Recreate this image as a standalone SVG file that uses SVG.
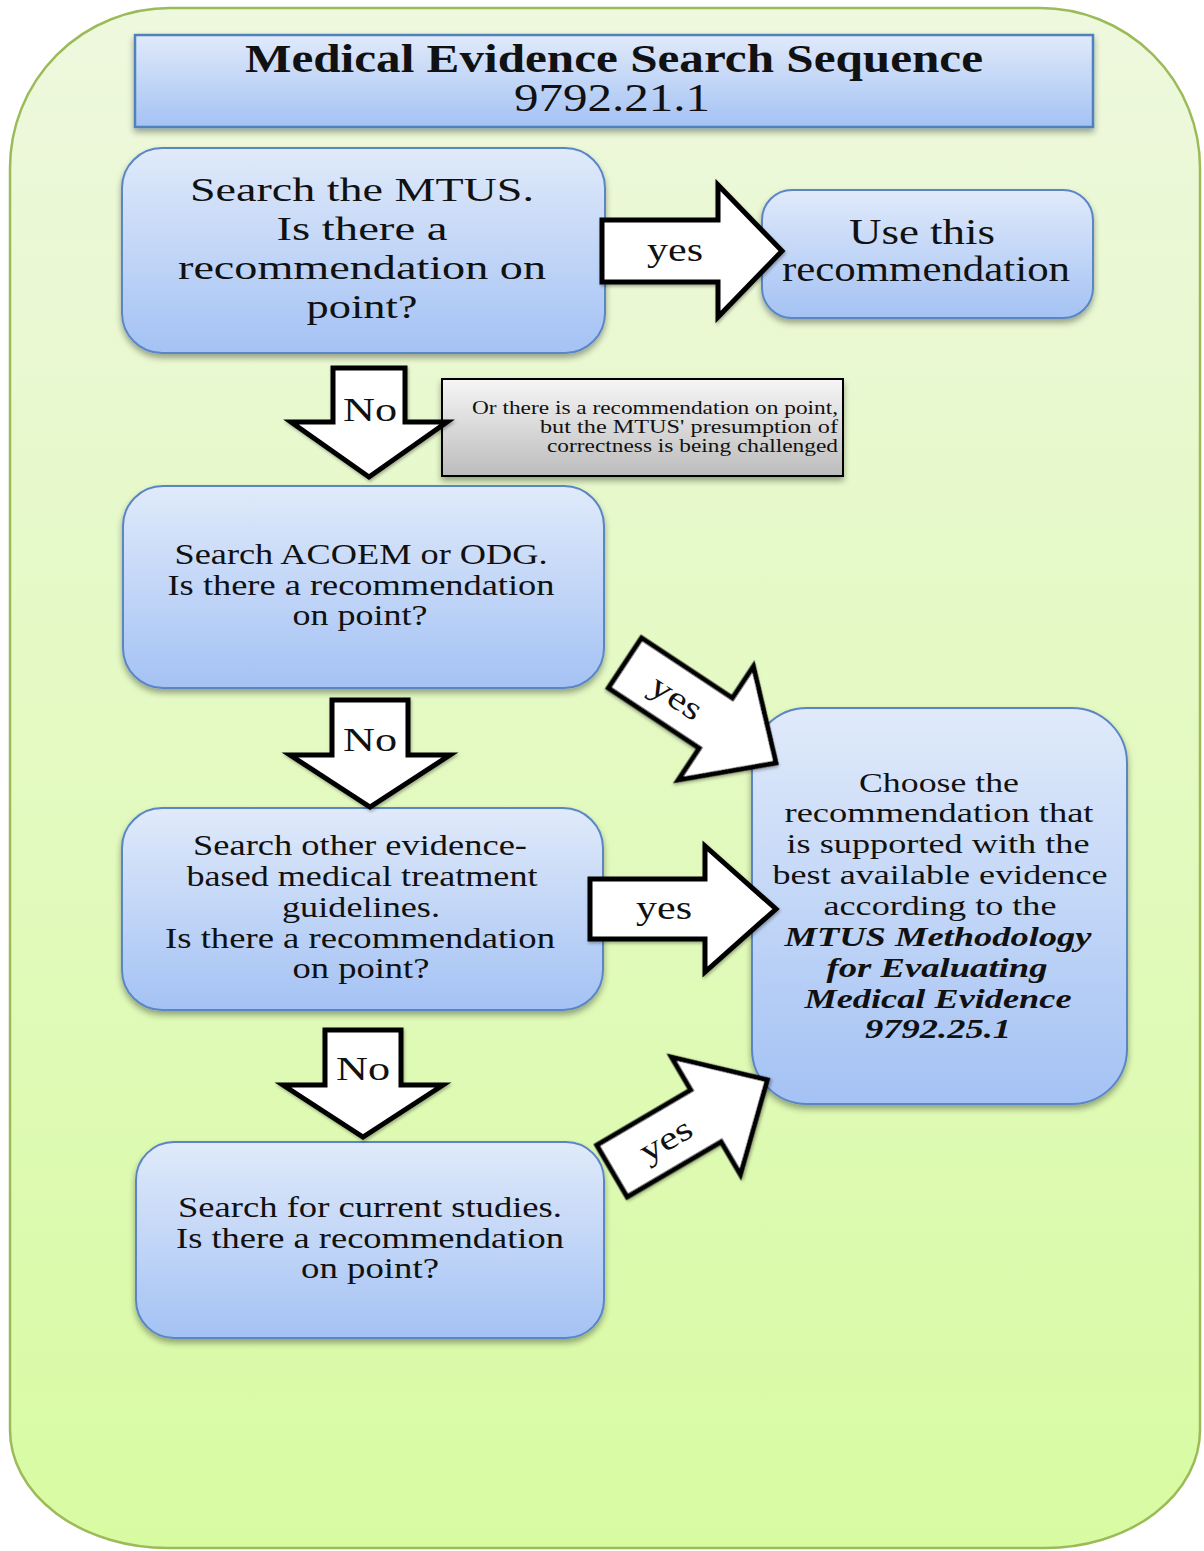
<svg xmlns="http://www.w3.org/2000/svg" width="1204" height="1551" viewBox="0 0 1204 1551">
  <defs>
    <linearGradient id="gOuter" x1="0" y1="0" x2="0" y2="1">
      <stop offset="0" stop-color="#eef8de"/>
      <stop offset="1" stop-color="#d8fba2"/>
    </linearGradient>
    <linearGradient id="gBlue" x1="0" y1="0" x2="0" y2="1">
      <stop offset="0" stop-color="#e0eafa"/>
      <stop offset="1" stop-color="#a4c2f4"/>
    </linearGradient>
    <linearGradient id="gGray" x1="0" y1="0" x2="0" y2="1">
      <stop offset="0" stop-color="#f6f6f6"/>
      <stop offset="1" stop-color="#bcbcbc"/>
    </linearGradient>
    <filter id="shadow" x="-10%" y="-10%" width="120%" height="130%">
      <feDropShadow dx="0" dy="4" stdDeviation="3" flood-color="#000" flood-opacity="0.35"/>
    </filter>
    <filter id="shadowS" x="-10%" y="-10%" width="120%" height="130%">
      <feDropShadow dx="1" dy="2" stdDeviation="1.5" flood-color="#000" flood-opacity="0.3"/>
    </filter>
  </defs>
  <style>
    .box { fill: url(#gBlue); stroke: #5a86c5; stroke-width: 2; filter: url(#shadow); }
    .txt { font-family: "Liberation Serif", "Times New Roman", serif; fill: #111; text-anchor: middle; }
    .arrow { fill: #fff; stroke: #000; stroke-width: 5; stroke-linejoin: miter; filter: url(#shadowS); }
    .lbl { font-family: "Liberation Serif", "Times New Roman", serif; fill: #111; text-anchor: middle; font-size: 33px; }
  </style>

  <!-- background container -->
  <path id="outer" d="M 170,8 H 1040 A 160 160 0 0 1 1200,168 V 1430 A 155 118 0 0 1 1045,1548 H 168 A 158 118 0 0 1 10,1430 V 168 A 160 160 0 0 1 170,8 Z" fill="url(#gOuter)" stroke="#9bbb59" stroke-width="2.5"/>

  <!-- title -->
  <g id="title">
    <rect x="135" y="35" width="958" height="92" fill="url(#gBlue)" stroke="#4f81bd" stroke-width="2.5" filter="url(#shadow)"/>
    <text class="txt" x="614" y="72" font-size="39" font-weight="bold" textLength="738" lengthAdjust="spacingAndGlyphs">Medical Evidence Search Sequence</text>
    <text class="txt" x="612" y="111" font-size="39" textLength="196" lengthAdjust="spacingAndGlyphs">9792.21.1</text>
  </g>

  <g id="node-mtus">
    <rect class="box" x="122" y="148" width="483" height="205" rx="40"/>
    <text class="txt" font-size="34" x="362" y="201" textLength="344" lengthAdjust="spacingAndGlyphs">Search the MTUS.</text>
    <text class="txt" font-size="34" x="362" y="240" textLength="171" lengthAdjust="spacingAndGlyphs">Is there a</text>
    <text class="txt" font-size="34" x="362" y="279" textLength="368" lengthAdjust="spacingAndGlyphs">recommendation on</text>
    <text class="txt" font-size="34" x="362" y="318" textLength="111" lengthAdjust="spacingAndGlyphs">point?</text>
  </g>

  <g id="node-use">
    <rect class="box" x="762" y="190" width="331" height="128" rx="30"/>
    <text class="txt" font-size="35" x="922" y="244" textLength="146" lengthAdjust="spacingAndGlyphs">Use this</text>
    <text class="txt" font-size="35" x="926" y="281" textLength="288" lengthAdjust="spacingAndGlyphs">recommendation</text>
  </g>

  <g id="node-note">
    <rect x="442" y="379" width="401" height="97" fill="url(#gGray)" stroke="#000" stroke-width="2" filter="url(#shadow)"/>
    <text class="txt" font-size="18" x="838" y="414" style="text-anchor:end" textLength="366" lengthAdjust="spacingAndGlyphs">Or there is  a recommendation on point,</text>
    <text class="txt" font-size="18" x="838" y="433" style="text-anchor:end" textLength="298" lengthAdjust="spacingAndGlyphs">but the  MTUS' presumption of</text>
    <text class="txt" font-size="18" x="838" y="452" style="text-anchor:end" textLength="291" lengthAdjust="spacingAndGlyphs">correctness is being  challenged</text>
  </g>

  <g id="node-acoem">
    <rect class="box" x="123" y="486" width="481" height="202" rx="40"/>
    <text class="txt" font-size="29" x="361" y="564" textLength="373" lengthAdjust="spacingAndGlyphs">Search ACOEM  or ODG.</text>
    <text class="txt" font-size="29" x="361" y="595" textLength="387" lengthAdjust="spacingAndGlyphs">Is there a recommendation</text>
    <text class="txt" font-size="29" x="360" y="625" textLength="135" lengthAdjust="spacingAndGlyphs">on point?</text>
  </g>

  <g id="node-other">
    <rect class="box" x="122" y="808" width="481" height="202" rx="40"/>
    <text class="txt" font-size="29" x="360" y="855" textLength="334" lengthAdjust="spacingAndGlyphs">Search other evidence-</text>
    <text class="txt" font-size="29" x="362" y="886" textLength="351" lengthAdjust="spacingAndGlyphs">based medical treatment</text>
    <text class="txt" font-size="29" x="361" y="917" textLength="158" lengthAdjust="spacingAndGlyphs">guidelines.</text>
    <text class="txt" font-size="29" x="360" y="948" textLength="390" lengthAdjust="spacingAndGlyphs">Is there a recommendation</text>
    <text class="txt" font-size="29" x="361" y="978" textLength="137" lengthAdjust="spacingAndGlyphs">on point?</text>
  </g>

  <g id="node-studies">
    <rect class="box" x="136" y="1142" width="468" height="196" rx="38"/>
    <text class="txt" font-size="29" x="370" y="1217" textLength="384" lengthAdjust="spacingAndGlyphs">Search for current studies.</text>
    <text class="txt" font-size="29" x="370" y="1248" textLength="388" lengthAdjust="spacingAndGlyphs">Is there a recommendation</text>
    <text class="txt" font-size="29" x="370" y="1278" textLength="138" lengthAdjust="spacingAndGlyphs">on point?</text>
  </g>

  <g id="node-choose">
    <rect class="box" x="752" y="708" width="375" height="396" rx="55"/>
    <text class="txt" font-size="28" x="939" y="792" textLength="160" lengthAdjust="spacingAndGlyphs">Choose the</text>
    <text class="txt" font-size="28" x="939" y="822" textLength="309" lengthAdjust="spacingAndGlyphs">recommendation that</text>
    <text class="txt" font-size="28" x="938" y="853" textLength="303" lengthAdjust="spacingAndGlyphs">is supported with the</text>
    <text class="txt" font-size="28" x="940" y="884" textLength="335" lengthAdjust="spacingAndGlyphs">best available evidence</text>
    <text class="txt" font-size="28" x="940" y="915" textLength="233" lengthAdjust="spacingAndGlyphs">according to the</text>
    <text class="txt" font-size="28" x="938" y="946" font-weight="bold" font-style="italic" textLength="307" lengthAdjust="spacingAndGlyphs">MTUS Methodology</text>
    <text class="txt" font-size="28" x="937" y="977" font-weight="bold" font-style="italic" textLength="221" lengthAdjust="spacingAndGlyphs">for Evaluating</text>
    <text class="txt" font-size="28" x="938" y="1008" font-weight="bold" font-style="italic" textLength="267" lengthAdjust="spacingAndGlyphs">Medical Evidence</text>
    <text class="txt" font-size="28" x="938" y="1038" font-weight="bold" font-style="italic" textLength="146" lengthAdjust="spacingAndGlyphs">9792.25.1</text>
  </g>

  <g id="connectors">
    <!-- yes: MTUS -> Use this -->
    <g transform="translate(602,251)">
      <polygon class="arrow" points="0,-31 116,-31 116,-66 180,0 116,66 116,31 0,31"/>
      <text class="lbl" x="73" y="10" textLength="56" lengthAdjust="spacingAndGlyphs">yes</text>
    </g>
    <!-- No: MTUS -> ACOEM -->
    <g transform="translate(369,368)">
      <polygon class="arrow" points="-36,0 36,0 36,54 78,54 0,109 -78,54 -36,54"/>
      <text class="lbl" font-size="35" x="1" y="53" textLength="54" lengthAdjust="spacingAndGlyphs">No</text>
    </g>
    <!-- yes: ACOEM -> Choose -->
    <g transform="translate(625,663) rotate(33.5)">
      <polygon class="arrow" points="0,-30 109,-30 109,-68 181,0 109,68 109,30 0,30"/>
      <text class="lbl" x="62" y="11" textLength="56" lengthAdjust="spacingAndGlyphs">yes</text>
    </g>
    <!-- No: ACOEM -> other -->
    <g transform="translate(370,700)">
      <polygon class="arrow" points="-38,0 38,0 38,55 80,55 0,107 -80,55 -38,55"/>
      <text class="lbl" font-size="35" x="0" y="51" textLength="54" lengthAdjust="spacingAndGlyphs">No</text>
    </g>
    <!-- yes: other -> Choose -->
    <g transform="translate(590,909)">
      <polygon class="arrow" points="0,-30 115,-30 115,-63 186,0 115,63 115,30 0,30"/>
      <text class="lbl" x="74" y="10" textLength="56" lengthAdjust="spacingAndGlyphs">yes</text>
    </g>
    <!-- No: other -> studies -->
    <g transform="translate(363,1030)">
      <polygon class="arrow" points="-38,0 38,0 38,55 80,55 0,107 -80,55 -38,55"/>
      <text class="lbl" font-size="35" x="0" y="50" textLength="54" lengthAdjust="spacingAndGlyphs">No</text>
    </g>
    <!-- yes: studies -> Choose -->
    <g transform="translate(612,1171) rotate(-30.4)">
      <polygon class="arrow" points="0,-30 109,-30 109,-68 180,0 109,68 109,30 0,30"/>
      <text class="lbl" x="62" y="11" textLength="56" lengthAdjust="spacingAndGlyphs">yes</text>
    </g>
  </g>
</svg>
